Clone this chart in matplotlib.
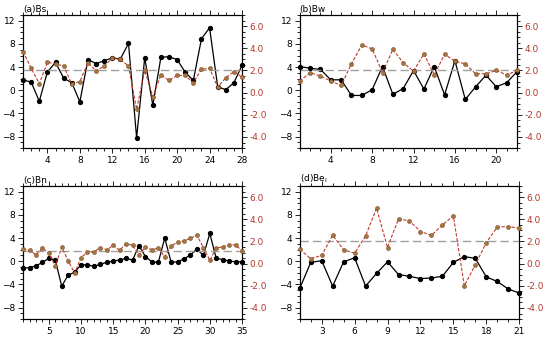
import matplotlib
matplotlib.use("Agg")
import matplotlib.pyplot as plt
import numpy as np
from matplotlib.ticker import MultipleLocator, FormatStrFormatter

# ---- data ----
titles = ["(a)Bs", "(b)Bw", "(c)Bn", "(d)Be$_{\\rm I}$"]

bs_black = [1.8, 1.4, -1.9, 3.2, 4.8, 2.1, 1.3, -2.0, 5.3, 4.6, 5.1, 5.6, 5.4, 8.1,
            -8.2, 5.6, -2.6, 5.7, 5.8, 5.3, 3.1, 1.7, 8.9, 10.8, 0.6, 0.1, 1.3, 4.3]
bs_red = [3.7, 2.2, 0.8, 2.75, 2.6, 2.4, 0.8, 1.0, 2.7, 1.95, 2.4, 3.1, 3.0, 2.4,
          -1.5, 2.0, -0.35, 1.6, 1.1, 1.55, 1.55, 0.9, 2.1, 2.2, 0.5, 1.35, 1.9, 1.4]

bw_black = [4.1, 3.8, 3.6, 1.8, 1.8, -0.9, -0.9, 0.1, 4.1, -0.7, 0.3, 3.4, 0.2, 4.1,
            -0.8, 5.1, -1.6, 0.6, 2.6, 0.6, 1.3, 3.2]
bw_red = [1.05, 1.8, 1.5, 1.05, 0.65, 2.6, 4.3, 3.95, 1.8, 3.9, 2.7, 1.95, 3.5, 1.6,
          3.45, 2.85, 2.6, 1.7, 1.7, 2.0, 1.6, 2.0]

bn_black = [-1.2, -1.1, -0.8, -0.2, 0.5, 0.2, -4.3, -2.4, -1.9, -0.6, -0.6, -0.9,
            -0.5, -0.2, 0.05, 0.2, 0.5, 0.2, 2.7, 0.8, -0.1, -0.2, 4.0, -0.2, -0.1,
            0.4, 1.1, 2.1, 1.0, 4.8, 0.5, 0.3, 0.05, -0.1, -0.1]
bn_red = [1.35, 1.2, 0.8, 1.4, 0.95, -0.25, 1.5, 0.25, -0.85, 0.55, 1.05, 1.05, 1.45,
          1.25, 1.65, 1.2, 1.8, 1.65, 0.8, 1.5, 1.25, 1.4, 0.6, 1.6, 1.95, 2.05, 2.3,
          2.55, 1.45, 0.3, 1.4, 1.5, 1.7, 1.7, 1.15]

be_black = [-4.7, -0.2, 0.1, -4.3, -0.1, 0.6, -4.3, -2.1, -0.1, -2.3, -2.6, -3.0,
            -2.9, -2.6, -0.2, 0.8, 0.5, -2.7, -3.5, -4.8, -5.5]
be_red = [1.3, 0.45, 0.75, 2.55, 1.25, 0.95, 2.5, 5.0, 1.45, 4.05, 3.85, 2.9, 2.55,
          3.5, 4.3, -2.0, -0.1, 1.9, 3.3, 3.35, 3.2]

ref_level = [2.0, 2.0, 1.1, 2.0]
xmajor = [4, 4, 5, 3]

blacks = [bs_black, bw_black, bn_black, be_black]
reds = [bs_red, bw_red, bn_red, be_red]

# axes boxes in figure fraction [left, bottom, width, height]
boxes = [[0.042, 0.567, 0.398, 0.389],
         [0.545, 0.567, 0.395, 0.389],
         [0.042, 0.067, 0.398, 0.389],
         [0.545, 0.067, 0.399, 0.389]]

red_line = "#c23a2c"
red_face = "#a5763f"
red_text = "#b0392e"

plt.rcParams["font.family"] = ["DejaVu Sans"]
fig = plt.figure(figsize=(5.5, 3.42), dpi=100)

for i in range(4):
    ax = fig.add_axes(boxes[i])
    blk = np.array(blacks[i])
    red = np.array(reds[i])
    x = np.arange(1, len(blk) + 1)

    ax.plot(x, blk, color="black", lw=0.9, marker="o", ms=2.8, zorder=3,
            clip_on=False)
    ax.set_xlim(1, len(blk))
    ax.set_ylim(-10, 13)
    ax.yaxis.set_major_locator(MultipleLocator(4))
    ax.yaxis.set_minor_locator(MultipleLocator(1))
    ax.xaxis.set_major_locator(MultipleLocator(xmajor[i]))
    ax.xaxis.set_minor_locator(MultipleLocator(1))
    ax.tick_params(which="both", direction="out", labelsize=6.5, pad=2,
                   top=True, width=0.6)
    ax.tick_params(which="major", length=3.5)
    ax.tick_params(which="minor", length=2)
    ax.set_xticks([t for t in ax.get_xticks() if 1 < t <= len(blk)])
    for s in ax.spines.values():
        s.set_linewidth(0.8)
    ax.text(0.0, 1.005, titles[i], transform=ax.transAxes, fontsize=6.5,
            ha="left", va="bottom")

    ax2 = ax.twinx()
    ax2.set_ylim(-5, 7)
    ax2.axhline(ref_level[i], color="#a0a0a0", lw=1.0, ls=(0, (6, 3)), zorder=1)
    ax2.plot(x, red, color=red_line, lw=0.8, ls=(0, (3, 1.5)), marker="o",
             ms=2.9, mfc=red_face, mec="#7e5028", mew=0.4, zorder=4,
             clip_on=False)
    ax2.yaxis.set_major_formatter(FormatStrFormatter("%.1f"))
    ax2.set_yticks([-4, -2, 0, 2, 4, 6])
    ax2.yaxis.set_minor_locator(MultipleLocator(0.5))
    ax2.tick_params(which="both", direction="out", labelsize=6.5, pad=2,
                    width=0.6, labelcolor=red_text)
    ax2.tick_params(which="major", length=3.5)
    ax2.tick_params(which="minor", length=2)

fig.savefig("out.png", dpi=100)
